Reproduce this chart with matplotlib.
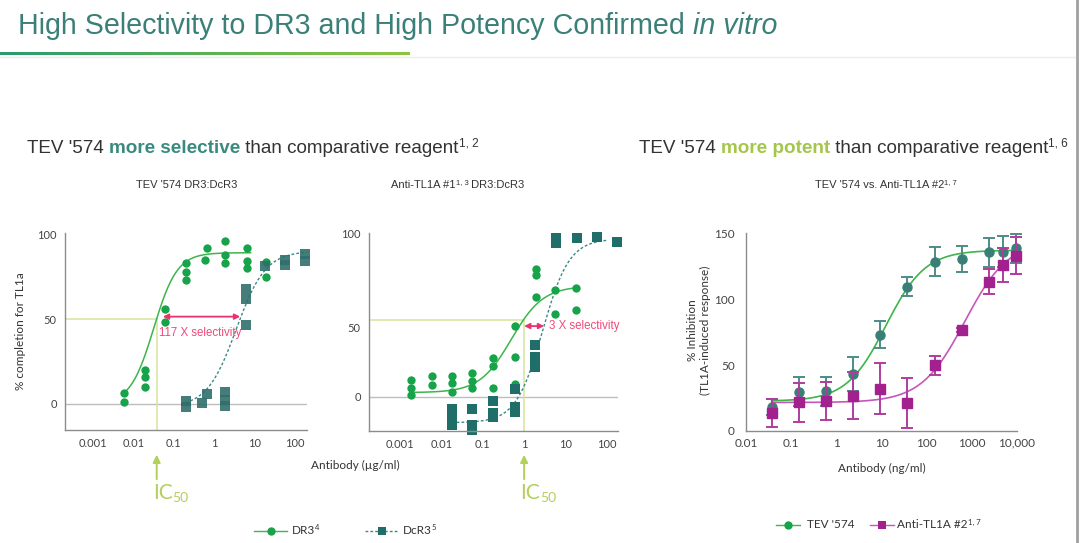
import numpy as np
import matplotlib
matplotlib.use("Agg")
import matplotlib.pyplot as plt
from matplotlib.lines import Line2D
from matplotlib import font_manager
from matplotlib.colors import LinearSegmentedColormap

# ---------------------------------------------------------------------
# datos
# ---------------------------------------------------------------------
# Panel A: TEV '574 DR3:DcR3 (ug/ml, %)
A_DR3_X = [0.006, 0.006, 0.02, 0.02, 0.02, 0.06, 0.06, 0.2, 0.2, 0.2,
           0.6, 0.65, 1.9, 1.9, 1.9, 6.5, 6.5, 6.5, 19.5, 19.5]
A_DR3_Y = [6.3, 1, 20, 16, 10, 56, 48, 83, 77.5, 73,
           85, 91.5, 96, 87.6, 83, 92, 84, 80, 83.7, 74.5]
A_DCR3_X = [0.2, 0.2, 0.5, 0.65, 1.85, 1.85, 1.85, 6, 6, 6, 18.6, 57, 57, 182, 182]
A_DCR3_Y = [1.8, -2, 0.8, 6, 7.3, 2.4, -1, 67.6, 62, 46.3, 81, 85, 82, 88, 84]

# Panel B: Anti-TL1A #1 DR3:DcR3
B_DR3_X = [0.0018, 0.0018, 0.0018, 0.0059, 0.0059, 0.0178, 0.0178, 0.0178,
           0.056, 0.056, 0.056, 0.18, 0.18, 0.18, 0.59, 0.59, 0.59,
           1.9, 1.9, 1.9, 5.6, 5.6, 18, 18]
B_DR3_Y = [10.2, 5.1, 1, 12.7, 7.4, 12.7, 8.2, 3.1,
           14.3, 9.8, 5.1, 23.6, 18.9, 5.5, 43.4, 24.6, 7.6,
           78.3, 74.8, 61.5, 65.6, 50.8, 67, 53.3]
B_DCR3_X = [0.0178, 0.0178, 0.0178, 0.056, 0.056, 0.056, 0.18, 0.18, 0.18,
            0.59, 0.59, 0.59, 1.85, 1.85, 1.85, 5.9, 5.9, 19, 58, 178]
B_DCR3_Y = [-7.8, -12.9, -17.4, -7.8, -17.4, -20.5, -2.5, -9.8, -12.7,
            4.7, -6.1, -9.6, 31.8, 24.6, 18.4, 97.3, 94.7, 97.3, 98, 95.3]

# Panel C: TEV '574 vs Anti-TL1A #2 (ng/ml, % inhibicion)
C_CONC = [0.037, 0.146, 0.586, 2.34, 9.4, 37.5, 150, 600, 2400, 4800, 9600]
C_TEV = [17.9, 29.6, 30.1, 43.1, 73.2, 109.7, 128.6, 130.6, 136, 136.5, 139]
C_TEV_ERR = [6, 11, 11, 13, 10.5, 7.4, 11, 10, 11, 12, 11]
C_ANTI = [13.3, 21.7, 22.4, 26.8, 31.9, 21.4, 49.7, 77, 113.5, 126.3, 133.2]
C_ANTI_ERR = [10.7, 15, 14.6, 18, 19.5, 19, 7, 1.5, 9.6, 12.7, 14]

# ajustes 4PL: (bottom, top, ec50, hill)
A_DR3_FIT = (0, 89, 0.032, 1.5)
A_DCR3_FIT = (-2, 90, 3.54, 1.2)
B_DR3_FIT = (2.5, 68, 0.49, 1.13)
B_DCR3_FIT = (-16, 97, 2.8, 1.35)
C_TEV_FIT = (22.5, 137.5, 12.5, 1.0)
C_ANTI_FIT = (21.5, 145, 700, 0.9)

LOG_TICKS_UG = [0.001, 0.01, 0.1, 1, 10, 100]
LOG_LABELS_UG = ["0.001", "0.01", "0.1", "1", "10", "100"]
LOG_TICKS_NG = [0.01, 0.1, 1, 10, 100, 1000, 10000]
LOG_LABELS_NG = ["0.01", "0.1", "1", "10", "100", "1000", "10,000"]

# ---------------------------------------------------------------------
W, H = 1080, 543
names = {f.name for f in font_manager.fontManager.ttflist}
SANS = "Liberation Sans"
NARROW = "Liberation Sans Narrow" if "Liberation Sans Narrow" in names else SANS
TITLE_SIZE = 22 if NARROW != SANS else 20.6
plt.rcParams["font.family"] = ["Lato", "DejaVu Sans"]

TEAL = "#3b8078"
GREEN = "#17a34a"
GREEN_LINE = "#3cb54b"
SLATE = "#2f6f6b"
LIME = "#b5cf5f"
LIME_GUIDE = "#d6e39c"
RED = "#e8336d"
MAGENTA = "#a3218f"
TXT = "#333333"

fig = plt.figure(figsize=(W / 100, H / 100), dpi=100)
renderer = fig.canvas.get_renderer()


def fx(px):
    return px / W


def fy(py):
    return 1 - py / H


def axes_px(left, top, right, bottom):
    return fig.add_axes([fx(left), fy(bottom), (right - left) / W, (bottom - top) / H])


def four_pl(x, bottom, top, ec50, hill):
    return bottom + (top - bottom) / (1 + (ec50 / x) ** hill)


def rich(x, y, parts, ha="left", **common):
    # coloca trozos de texto uno detras de otro (x, y en pixeles, y = linea base)
    texts, widths = [], []
    for s, kw in parts:
        props = dict(common); props.update(kw)
        rise = props.pop("rise", 0)
        t = fig.text(0, fy(y - rise), s, va="baseline", ha="left", **props)
        texts.append(t)
        widths.append(t.get_window_extent(renderer).width)
    if ha == "center":
        x -= sum(widths) / 2
    for t, w in zip(texts, widths):
        t.set_x(fx(x))
        x += w
    return x


def style(ax, xlim, ylim, ticks, labels, size=8):
    ax.set_xscale("log")
    ax.set_xlim(*xlim); ax.set_ylim(*ylim)
    for s in ("top", "right"):
        ax.spines[s].set_visible(False)
    for s in ("left", "bottom"):
        ax.spines[s].set_color("#8c8c8c"); ax.spines[s].set_linewidth(1)
    ax.set_xticks(ticks, labels)
    ax.minorticks_off()
    ax.tick_params(length=0, labelsize=size, colors="#444444", pad=6)
    ax.patch.set_alpha(0)


def curve(ax, fit, x0, x1, **kw):
    xs = np.logspace(np.log10(x0), np.log10(x1), 200)
    ax.plot(xs, four_pl(xs, *fit), **kw)


def ic50_marker(ax, xval):
    px = ax.transData.transform((xval, 0))[0]
    fig.add_artist(matplotlib.patches.FancyArrowPatch(
        (fx(px), fy(482)), (fx(px), fy(452)), transform=fig.transFigure,
        arrowstyle="-|>", mutation_scale=11, color=LIME, lw=1.4))
    rich(px - 4, 499, [("IC", {"fontsize": 15}), ("50", {"fontsize": 10, "rise": -3})],
         color=LIME, family=["Lato", "DejaVu Sans"])


def sel_arrow(ax, x1, x2, y, label, tx, ty):
    ax.annotate("", xy=(x2, y), xytext=(x1, y),
                arrowprops=dict(arrowstyle="<|-|>", color=RED, lw=1.3,
                                mutation_scale=8, shrinkA=0, shrinkB=0))
    ax.text(tx, ty, label, color="#ee4a7a", fontsize=8.3, family=SANS,
            va="center", ha="left", clip_on=False)


# ---------------------------------------------------------------------
# cabecera
# ---------------------------------------------------------------------
rich(18, 34, [("High Selectivity to DR3 and High Potency Confirmed ", {}),
              ("in vitro", {"style": "italic"})],
     family=NARROW, fontsize=TITLE_SIZE, color=TEAL)
bar = fig.add_axes([0, fy(55), 410 / W, 3 / H])
bar.imshow(np.linspace(0, 1, 256)[None, :], aspect="auto",
           cmap=LinearSegmentedColormap.from_list("g", ["#2a9b6f", "#8cc63f"]))
bar.axis("off")
fig.add_artist(Line2D([0, fx(1076)], [fy(56.5)] * 2, color="#ececec", lw=1))
fig.add_artist(Line2D([fx(1077)] * 2, [0, 1], color="#a0a0a0", lw=2))

rich(27, 153, [("TEV '574 ", {}),
               ("more selective", {"weight": "bold", "color": "#3a8a80"}),
               (" than comparative reagent", {}),
               ("1, 2", {"fontsize": 8.5, "rise": 6})],
     family=SANS, fontsize=13.6, color=TXT)
rich(639, 153, [("TEV '574 ", {}),
                ("more potent", {"weight": "bold", "color": "#a5c64a"}),
                (" than comparative reagent", {}),
                ("1, 6", {"fontsize": 8.5, "rise": 6})],
     family=SANS, fontsize=13.6, color=TXT)

rich(187, 188, [("TEV '574 DR3:DcR3", {})], ha="center",
     family=SANS, fontsize=8, color=TXT)
rich(458, 188, [("Anti-TL1A #1", {}), ("1, 3", {"fontsize": 5.5, "rise": 4}),
                (" DR3:DcR3", {})], ha="center", family=SANS, fontsize=8, color=TXT)
rich(886, 188, [("TEV '574 vs. Anti-TL1A #2", {}), ("1, 7", {"fontsize": 5.5, "rise": 4})],
     ha="center", family=SANS, fontsize=8, color=TXT)

# ---------------------------------------------------------------------
# Panel A
# ---------------------------------------------------------------------
axA = axes_px(65, 233, 307, 430)
style(axA, (10 ** -3.69, 10 ** 2.3), (-15.3, 100.6), LOG_TICKS_UG, LOG_LABELS_UG)
axA.set_yticks([0, 50, 100], ["0", "50", "100"])
axA.axhline(0, color="#bdbdbd", lw=1, zorder=0)
ic_a = 0.038
axA.plot([10 ** -3.69, ic_a], [50, 50], color=LIME_GUIDE, lw=1.1, zorder=0)
axA.plot([ic_a, ic_a], [50, -15.3], color=LIME_GUIDE, lw=1.1, zorder=0)
curve(axA, A_DR3_FIT, 0.006, 8, color=GREEN_LINE, lw=1.1)
curve(axA, A_DCR3_FIT, 0.2, 200, color="#3a8a85", lw=1, ls=(0, (2, 1.5)))
axA.plot(A_DR3_X, A_DR3_Y, "o", color=GREEN, ms=6, mew=0, clip_on=False)
axA.plot(A_DCR3_X, A_DCR3_Y, "s", color=SLATE, ms=6.5, mew=0, alpha=0.9, clip_on=False)
sel_arrow(axA, 0.054, 4.43, 51.4, "117 X selectivity", 0.044, 41.6)
axA.set_ylabel("% completion for TL1a", fontsize=8.5, color=TXT, labelpad=8)
ic50_marker(axA, ic_a)

# ---------------------------------------------------------------------
# Panel B (las etiquetas del eje y estan donde aparecen en la figura)
# ---------------------------------------------------------------------
axB = axes_px(369, 233, 618, 431)
style(axB, (10 ** -3.75, 10 ** 2.27), (-21.1, 100.6), LOG_TICKS_UG, LOG_LABELS_UG)
axB.set_yticks([0, 42.4, 100], ["0", "50", "100"])
axB.axhline(0, color="#bdbdbd", lw=1, zorder=0)
ic_b, lvl_b = 1.0, 47.1
axB.plot([10 ** -3.75, ic_b], [lvl_b, lvl_b], color=LIME_GUIDE, lw=1.1, zorder=0)
axB.plot([ic_b, ic_b], [lvl_b, -21.1], color=LIME_GUIDE, lw=1.1, zorder=0)
curve(axB, B_DR3_FIT, 0.0018, 18, color=GREEN_LINE, lw=1.1)
curve(axB, B_DCR3_FIT, 0.0178, 100, color="#3a8a85", lw=1, ls=(0, (2, 1.5)))
axB.plot(B_DR3_X, B_DR3_Y, "o", color=GREEN, ms=6, mew=0, clip_on=False)
axB.plot(B_DCR3_X, B_DCR3_Y, "s", color="#1f6e6a", ms=6.5, mew=0, clip_on=False)
sel_arrow(axB, 1.0, 3.05, 43.4, "3 X selectivity", 3.9, 43.4)
ic50_marker(axB, ic_b)
fig.text(fx(355), fy(465), "Antibody (\u00b5g/ml)", ha="center", va="center",
         fontsize=8.5, color=TXT)

# ---------------------------------------------------------------------
# Panel C
# ---------------------------------------------------------------------
axC = axes_px(746, 233, 1017, 430.7)
style(axC, (0.01, 10 ** 3.97), (0, 150.6), LOG_TICKS_NG, LOG_LABELS_NG, size=8.5)
axC.set_yticks([0, 50, 100, 150], ["0", "50", "100", "150"])
axC.tick_params(axis="y", pad=8)
axC.tick_params(axis="x", pad=5)
curve(axC, C_TEV_FIT, 0.037, 9600, color=GREEN_LINE, lw=1.2, zorder=2)
curve(axC, C_ANTI_FIT, 0.037, 9600, color="#c557b8", lw=1.2, zorder=2)
axC.errorbar(C_CONC, C_TEV, yerr=C_TEV_ERR, fmt="o", color="#3a7f77", ecolor="#4d8d85",
             ms=6.5, mec="#3a7f77", capsize=4, elinewidth=1.4, capthick=1.4,
             zorder=3, clip_on=False)
axC.errorbar(C_CONC, C_ANTI, yerr=C_ANTI_ERR, fmt="s", color=MAGENTA, ecolor="#b13c9f",
             ms=6.5, mec=MAGENTA, capsize=4, elinewidth=1.4, capthick=1.4,
             zorder=4, clip_on=False)
fig.text(fx(699), fy(330), "% Inhibition\n(TL1A-induced response)", rotation=90,
         ha="center", va="center", multialignment="center", fontsize=8.5,
         color=TXT, linespacing=1.15)
fig.text(fx(882), fy(468), "Antibody (ng/ml)", ha="center", va="center",
         fontsize=8.5, color=TXT)

# ---------------------------------------------------------------------
# leyendas
# ---------------------------------------------------------------------
def legend_item(x0, x1, y, line_color, ls, marker, mcolor, label, sup, tx):
    fig.add_artist(Line2D([fx(x0), fx(x1)], [fy(y)] * 2, color=line_color, lw=1, ls=ls))
    fig.add_artist(Line2D([fx((x0 + x1) / 2)], [fy(y)], marker=marker, color=mcolor,
                          ms=6, mew=0, ls=""))
    rich(tx, y + 3.5, [(label, {}), (sup, {"fontsize": 5.5, "rise": 4})],
         fontsize=8.5, color=TXT)


legend_item(254, 287, 530.5, GREEN_LINE, "-", "o", GREEN, "DR3", "4", 292)
legend_item(365, 398, 530.5, "#3a8a85", (0, (2, 1.5)), "s", "#1f6e6a", "DcR3", "5", 403)
legend_item(776, 800, 525, GREEN_LINE, "-", "o", GREEN, "TEV '574", "", 807)
legend_item(870, 894, 525, "#c557b8", "-", "s", MAGENTA, "Anti-TL1A #2", "1, 7", 897)

fig.savefig("out.png", dpi=100)
